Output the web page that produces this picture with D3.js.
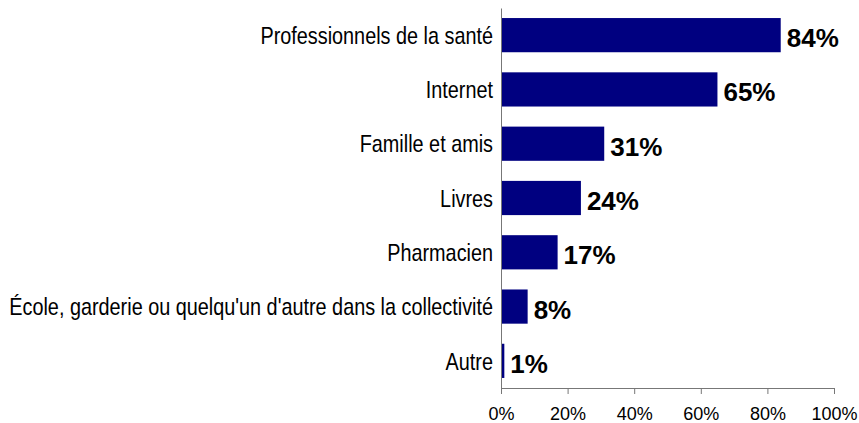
<!DOCTYPE html>
<html>
<head>
<meta charset="utf-8">
<script src="https://cdn.jsdelivr.net/npm/d3@7"></script>
<style>
  body { margin: 0; background: #fff; }
  svg { display: block; font-family: Arial, "Liberation Sans", sans-serif; }
</style>
</head>
<body>
<svg id="chart" width="859" height="423"></svg>
<script>
const categories = [
    'Professionnels de la santé',
    'Internet',
    'Famille et amis',
    'Livres',
    'Pharmacien',
    "École, garderie ou quelqu'un d'autre dans la collectivité",
    'Autre'
];
const values = [84, 65, 31, 24, 17, 8, 1];
const tickValues = [0, 20, 40, 60, 80, 100];

const svg = d3.select('#chart');
const margin = { top: 8, left: 501, right: 25, bottom: 35 };

const x = d3.scaleLinear().domain([0, 100]).range([margin.left, 834]);
const y = d3.scaleBand().domain(categories).range([margin.top, 388]).paddingInner(0.37).paddingOuter(0.185);

// bars
svg.append('g').selectAll('rect')
    .data(values)
    .enter()
    .append('rect')
    .attr('x', x(0))
    .attr('y', (d, i) => y(categories[i]))
    .attr('width', d => x(d) - x(0))
    .attr('height', y.bandwidth())
    .attr('fill', '#000080');

// value labels
svg.append('g').selectAll('text')
    .data(values)
    .enter()
    .append('text')
    .attr('x', d => x(d) + 6)
    .attr('y', (d, i) => y(categories[i]) + y.bandwidth() / 2 + 12)
    .attr('font-size', '26px')
    .attr('font-weight', 'bold')
    .attr('fill', '#000')
    .text(d => d + '%');

// x axis
const xAxis = d3.axisBottom(x)
    .tickValues(tickValues)
    .tickFormat(d => d + '%')
    .tickSizeInner(6)
    .tickSizeOuter(0)
    .tickPadding(13);

const gx = svg.append('g')
    .attr('transform', 'translate(0,388)')
    .call(xAxis);
gx.select('.domain').attr('stroke', '#777');
gx.selectAll('.tick line').attr('stroke', '#777');
gx.selectAll('.tick text')
    .attr('font-size', '18px')
    .attr('font-family', 'Arial, "Liberation Sans", sans-serif')
    .attr('fill', '#000');

// y axis - narrow looking labels, so squeeze them a bit
const squeeze = 0.82;
const yAxis = d3.axisLeft(y).tickSize(0).tickPadding(0);
const gy = svg.append('g')
    .attr('transform', `translate(${x(0)},0)`)
    .call(yAxis);
gy.select('.domain').attr('stroke', '#777');
gy.selectAll('.tick text')
    .attr('font-size', '24.2px')
    .attr('font-family', 'Arial, "Liberation Sans", sans-serif')
    .attr('fill', '#000')
    .attr('x', -8 / squeeze)
    .attr('dy', '0.36em')
    .attr('transform', `scale(${squeeze},1)`);
</script>
</body>
</html>
